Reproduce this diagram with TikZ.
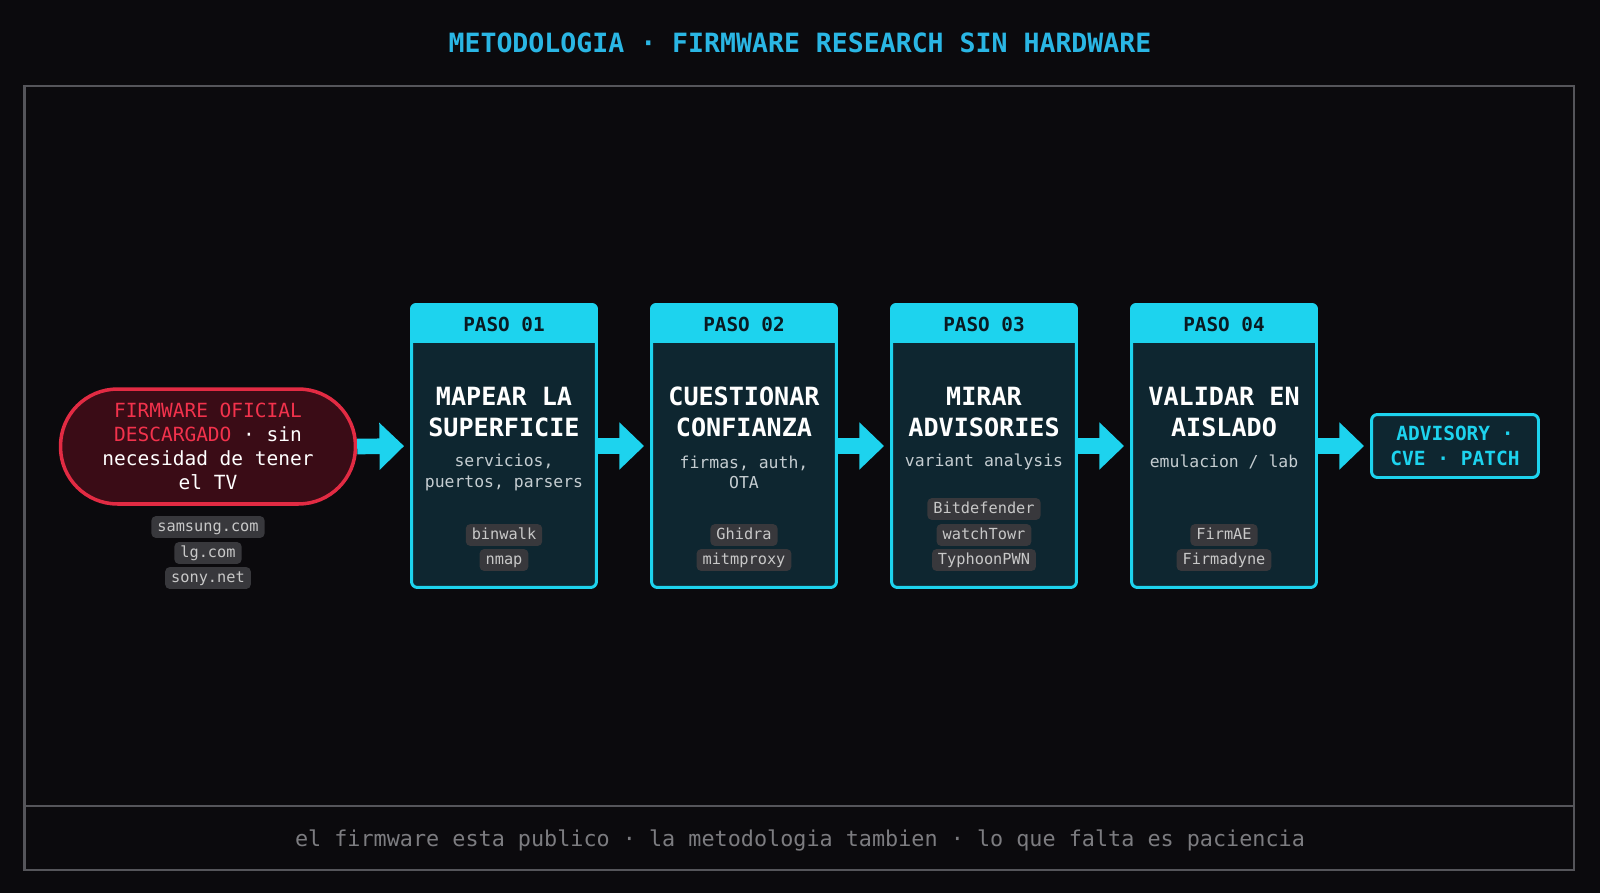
\documentclass[tikz,border=0pt]{standalone}
\usepackage{fontspec}
\setmainfont{DejaVu Sans Mono}
\usetikzlibrary{positioning,arrows.meta}

\definecolor{bgc}{HTML}{0B0A0D}
\definecolor{framec}{HTML}{55555A}
\definecolor{titlec}{HTML}{2AB6E4}
\definecolor{cyn}{HTML}{1DD3EE}
\definecolor{bodyc}{HTML}{0E2630}
\definecolor{headc}{HTML}{0A1A22}
\definecolor{subc}{HTML}{C5CDD1}
\definecolor{tagc}{HTML}{38383C}
\definecolor{tagt}{HTML}{C8C8C8}
\definecolor{redc}{HTML}{E22B43}
\definecolor{redt}{HTML}{F2324C}
\definecolor{redfill}{HTML}{3A0C16}
\definecolor{footc}{HTML}{7C7C80}

\tikzset{
  frame/.style={draw=framec, line width=1.2pt},
  stepbox/.style={draw=cyn, line width=1.7pt, fill=bodyc, rounded corners=3.4pt,
    minimum width=3.70cm, minimum height=5.66cm, inner sep=0pt},
  headtxt/.style={text=headc, font=\bfseries\fontsize{11}{13}\selectfont},
  steptitle/.style={text=white, align=center, font=\bfseries\fontsize{14.3}{17.4}\selectfont},
  stepsub/.style={text=subc, align=center, font=\fontsize{9.35}{11.6}\selectfont},
  tag/.style={fill=tagc, text=tagt, rounded corners=2.5pt, inner xsep=3.4pt, inner ysep=2pt,
    text height=6.5pt, text depth=1.9pt, font=\fontsize{8.7}{10}\selectfont},
  srcbox/.style={draw=redc, line width=2pt, fill=redfill, rounded corners=1.14cm,
    minimum width=5.9cm, minimum height=2.3cm, align=center, text=white,
    font=\fontsize{11.1}{13.7}\selectfont},
  endbox/.style={draw=cyn, line width=1.7pt, fill=bodyc, rounded corners=3.4pt,
    minimum width=3.34cm, minimum height=1.26cm, align=center, text=cyn,
    font=\bfseries\fontsize{11.1}{14.5}\selectfont},
  flow/.style={draw=cyn, line width=8.9pt, -{Triangle[length=14pt,width=26pt]}, shorten >=3.4pt}
}

\begin{document}
\begin{tikzpicture}[x=0.02cm,y=-0.02cm]
\fill[bgc] (0,0) rectangle (1600,893);
\useasboundingbox (0,0) rectangle (1600,893);

% frame and footer band
\draw[frame] (24.5,86) rectangle (1574,870);
\draw[frame] (24.5,806) -- (1574,806);

\node[text=titlec, font=\bfseries\fontsize{15.1}{18}\selectfont] (title) at (800,43) {METODOLOGIA · FIRMWARE RESEARCH SIN HARDWARE};
\node[text=footc, font=\fontsize{12.4}{15}\selectfont] (foot) at (800,840) {el firmware esta publico · la metodologia tambien · lo que falta es paciencia};

% source
\node[srcbox] (src) at (208,446.5) {{\color{redt}FIRMWARE OFICIAL}\\{\color{redt}DESCARGADO} · sin\\necesidad de tener\\el TV};
\node[tag] (t0a) at (208,527) {samsung.com};
\node[tag] (t0b) at (208,553) {lg.com};
\node[tag] (t0c) at (208,578) {sony.net};

% steps
\node[stepbox] (s1) at (504,446) {};
\node[stepbox] (s2) at (744,446) {};
\node[stepbox] (s3) at (984,446) {};
\node[stepbox] (s4) at (1224,446) {};

\foreach \s in {s1,s2,s3,s4} {
  \begin{scope}
    \clip[rounded corners=3.4pt] (\s.south west) rectangle (\s.north east);
    \fill[cyn] (\s.north west) rectangle ([yshift=-0.79cm]\s.north east);
  \end{scope}
}

\node[headtxt] (h1) at (504,324.5) {PASO 01};
\node[headtxt] (h2) at (744,324.5) {PASO 02};
\node[headtxt] (h3) at (984,324.5) {PASO 03};
\node[headtxt] (h4) at (1224,324.5) {PASO 04};

\node[steptitle] (n1) at (504,412) {MAPEAR LA\\SUPERFICIE};
\node[steptitle] (n2) at (744,412) {CUESTIONAR\\CONFIANZA};
\node[steptitle] (n3) at (984,412) {MIRAR\\ADVISORIES};
\node[steptitle] (n4) at (1224,412) {VALIDAR EN\\AISLADO};

\node[stepsub] (d1) at (504,472.5) {servicios,\\puertos, parsers};
\node[stepsub] (d2) at (744,472.5) {firmas, auth,\\OTA};
\node[stepsub] (d3) at (984,462) {variant analysis};
\node[stepsub] (d4) at (1224,462) {emulacion / lab};

\node[tag] (t1a) at (504,535) {binwalk};
\node[tag] (t1b) at (504,560) {nmap};
\node[tag] (t2a) at (744,535) {Ghidra};
\node[tag] (t2b) at (744,560) {mitmproxy};
\node[tag] (t3a) at (984,509) {Bitdefender};
\node[tag] (t3b) at (984,535) {watchTowr};
\node[tag] (t3c) at (984,560) {TyphoonPWN};
\node[tag] (t4a) at (1224,535) {FirmAE};
\node[tag] (t4b) at (1224,560) {Firmadyne};

% result
\node[endbox] (out) at (1455,446) {ADVISORY ·\\CVE · PATCH};

\draw[flow] (src.east) -- (s1.west);
\draw[flow] (s1.east) -- (s2.west);
\draw[flow] (s2.east) -- (s3.west);
\draw[flow] (s3.east) -- (s4.west);
\draw[flow] (s4.east) -- (out.west);
\end{tikzpicture}
\end{document}
